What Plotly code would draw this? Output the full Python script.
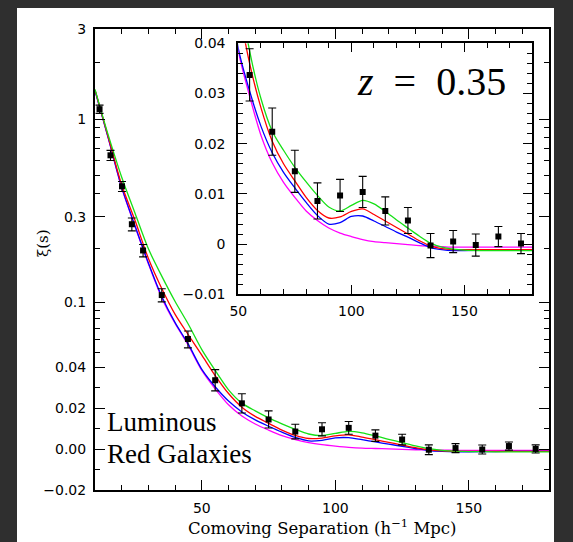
import numpy as np
import plotly.graph_objects as go

# ---------------- data ----------------
S_DATA = [11.7, 15.8, 20.1, 23.8, 28.0, 35.0, 44.8, 55, 65, 75, 85, 95, 105,
          115, 125, 135, 145, 155, 165, 175]
XI_DATA = [1.13, 0.642, 0.438, 0.273, 0.196, 0.110, 0.0605, 0.0337, 0.0224,
           0.0145, 0.0086, 0.0097, 0.0104, 0.0066, 0.0047, -0.0003, 0.0005,
           -0.0002, 0.0015, 0.0001]
XI_ERR = [0.057, 0.040, 0.027, 0.022, 0.0155, 0.0095, 0.0072, 0.0052, 0.0047,
          0.0042, 0.0036, 0.0032, 0.0031, 0.0028, 0.0026, 0.0024, 0.0022,
          0.0022, 0.0020, 0.0020]

S_MODEL = [10, 12.5, 15, 20, 25, 30, 35, 40, 45, 50, 55, 60, 65, 70, 75, 80,
           85, 90, 95, 100, 105, 110, 115, 120, 125, 130, 135, 140, 145, 150,
           160, 170, 180]
XI_MAGENTA = [1.42, 1.06, 0.79, 0.43, 0.265, 0.165, 0.106, 0.075, 0.055, 0.0385,
              0.0295, 0.0217, 0.0162, 0.0123, 0.0093, 0.0066, 0.0047, 0.0032,
              0.0022, 0.0015, 0.0009, 0.0005, 0.0003, 0.0001, -0.0001, -0.0003,
              -0.0004, -0.0005, -0.0006, -0.0006, -0.0006, -0.0006, -0.0006]
XI_BLUE = [1.42, 1.06, 0.79, 0.432, 0.267, 0.167, 0.108, 0.076, 0.056, 0.039,
           0.0305, 0.0235, 0.0182, 0.0143, 0.0112, 0.0083, 0.0057, 0.0040,
           0.0043, 0.0055, 0.0056, 0.0046, 0.0035, 0.0024, 0.0014, 0.0003,
           -0.0007, -0.0011, -0.0013, -0.0013, -0.0012, -0.0011, -0.0011]
XI_RED = [1.43, 1.07, 0.80, 0.445, 0.286, 0.177, 0.120, 0.085, 0.064, 0.048,
          0.036, 0.0272, 0.0205, 0.0160, 0.0126, 0.0093, 0.0067, 0.0052,
          0.0054, 0.0065, 0.0070, 0.0059, 0.0046, 0.0033, 0.0020, 0.0007,
          -0.0004, -0.0009, -0.0011, -0.0011, -0.0011, -0.0011, -0.0011]
XI_GREEN = [1.44, 1.08, 0.82, 0.49, 0.313, 0.200, 0.141, 0.101, 0.074, 0.052,
            0.0385, 0.029, 0.0225, 0.0187, 0.0153, 0.0124, 0.0097, 0.0074,
            0.0066, 0.0077, 0.0087, 0.0080, 0.0065, 0.0048, 0.0032, 0.0016,
            0.0002, -0.0006, -0.0010, -0.0012, -0.0013, -0.0013, -0.0013]

MAIN_YTICKS = [3, 1, 0.3, 0.1, 0.04, 0.02, 0.0, -0.02]
MAIN_YTICKTEXT = ["3", "1", "0.3", "0.1", "0.04", "0.02", "0.00", "\u22120.02"]
MAIN_YMINOR = [2, 0.9, 0.8, 0.7, 0.6, 0.5, 0.4, 0.2, 0.09, 0.08, 0.07, 0.06,
               0.05, 0.03, 0.01, -0.01]
INSET_YTICKS = [-0.01, 0.0, 0.01, 0.02, 0.03, 0.04]
INSET_YTICKTEXT = ["\u22120.01", "0", "0.01", "0.02", "0.03", "0.04"]
XTICKS = [50, 100, 150]

# ---------------- hybrid vertical scale of the main panel ----------------
OFFSET = 0.01      # log10(xi + OFFSET) above the join
JOIN = 0.04        # linear below this value
LIN_SLOPE = 10.75  # decades per unit of xi in the linear part


def F(xi):
    xi = np.asarray(xi, dtype=float)
    lin = np.log10(JOIN + OFFSET) + (xi - JOIN) * LIN_SLOPE
    lg = np.log10(np.clip(xi, JOIN, None) + OFFSET)
    return np.where(xi >= JOIN, lg, lin)


s_data = np.array(S_DATA)
xi_data = np.array(XI_DATA)
xi_err = np.array(XI_ERR)
f_data = F(xi_data)
f_up = F(xi_data + xi_err) - f_data
f_dn = f_data - F(xi_data - xi_err)

# ---------------- layout geometry (pixels) ----------------
W, H = 573, 542
L, R, T, B = 95, 549, 29, 490
pw, ph = R - L, B - T


def px(x):
    return (x - L) / pw


def py(y):
    return (B - y) / ph


COLORS = {"magenta": "#ff00ff", "blue": "#0000ff", "red": "#ff0000",
          "green": "#16e016"}
MODELS = [("magenta", XI_MAGENTA), ("blue", XI_BLUE), ("red", XI_RED),
          ("green", XI_GREEN)]

fig = go.Figure()

# main panel curves
for name, vals in MODELS:
    fig.add_trace(go.Scatter(x=S_MODEL, y=F(vals), mode="lines",
                             line=dict(color=COLORS[name], width=1.3,
                                       shape="spline", smoothing=0.8),
                             xaxis="x", yaxis="y", showlegend=False,
                             hoverinfo="skip"))
fig.add_trace(go.Scatter(x=s_data, y=f_data, mode="markers",
                         marker=dict(symbol="square", size=6, color="black"),
                         error_y=dict(type="data", array=f_up, arrayminus=f_dn,
                                      color="black", thickness=1.1, width=4),
                         xaxis="x", yaxis="y", showlegend=False))

# inset curves
for name, vals in MODELS:
    fig.add_trace(go.Scatter(x=S_MODEL, y=vals, mode="lines",
                             line=dict(color=COLORS[name], width=1.3,
                                       shape="spline", smoothing=0.8),
                             xaxis="x2", yaxis="y2", showlegend=False,
                             hoverinfo="skip"))
mask = s_data >= 50
fig.add_trace(go.Scatter(x=s_data[mask], y=xi_data[mask], mode="markers",
                         marker=dict(symbol="square", size=6, color="black"),
                         error_y=dict(type="data", array=xi_err[mask],
                                      color="black", thickness=1.1, width=4),
                         xaxis="x2", yaxis="y2", showlegend=False))

tickfont = dict(family="DejaVu Sans", size=14, color="black")
axis_common = dict(showline=True, linecolor="black", linewidth=2,
                   mirror="ticks", ticks="inside", tickcolor="black",
                   tickwidth=1.3, showgrid=False, zeroline=False,
                   tickfont=tickfont)

fig.update_layout(
    width=W, height=H,
    margin=dict(l=L, r=W - R, t=T, b=H - B),
    paper_bgcolor="#2f2f2f", plot_bgcolor="white",
    xaxis=dict(domain=[0, 1], range=[10, 180], tickmode="array",
               tickvals=XTICKS, ticklen=10,
               minor=dict(dtick=10, tick0=0, ticklen=5, ticks="inside",
                          tickcolor="black", tickwidth=1.2),
               anchor="y", ticklabelstandoff=4, **axis_common),
    yaxis=dict(domain=[0, 1], range=[float(F(-0.02)), float(F(3))],
               tickmode="array", tickvals=F(MAIN_YTICKS).tolist(),
               ticktext=MAIN_YTICKTEXT, ticklen=10,
               minor=dict(tickmode="array", tickvals=F(MAIN_YMINOR).tolist(),
                          ticklen=5, ticks="inside", tickcolor="black",
                          tickwidth=1.2),
               anchor="x", ticklabelstandoff=4, **axis_common),
    xaxis2=dict(domain=[px(238.3), px(532.3)], range=[50, 180],
                tickmode="array", tickvals=XTICKS, ticklen=9,
                minor=dict(dtick=10, tick0=0, ticklen=5, ticks="inside",
                           tickcolor="black", tickwidth=1.2),
                anchor="y2", ticklabelstandoff=3, **axis_common),
    yaxis2=dict(domain=[py(294.3), py(43.3)], range=[-0.01, 0.04],
                tickmode="array", tickvals=INSET_YTICKS,
                ticktext=INSET_YTICKTEXT, ticklen=9,
                minor=dict(dtick=0.002, tick0=0, ticklen=5, ticks="inside",
                           tickcolor="black", tickwidth=1.2),
                anchor="x2", ticklabelstandoff=8, **axis_common),
    shapes=[dict(type="rect", xref="paper", yref="paper",
                 x0=px(17), x1=px(554), y0=py(542), y1=py(8),
                 fillcolor="white", line=dict(width=0), layer="below")],
    annotations=[
        dict(text="Comoving Separation (h<sup>\u22121</sup> Mpc)",
             xref="paper", yref="paper", x=px(322), y=py(527),
             showarrow=False, xanchor="center", yanchor="middle",
             font=dict(family="DejaVu Serif", size=16.5, color="black")),
        dict(text="\u03be(s)", xref="paper", yref="paper", x=px(43),
             y=py(243), showarrow=False, textangle=-90, xanchor="center",
             yanchor="middle",
             font=dict(family="DejaVu Serif", size=15, color="black")),
        dict(text="Luminous", xref="paper", yref="paper", x=px(105),
             y=py(422), showarrow=False, xanchor="left", yanchor="middle",
             font=dict(family="Liberation Serif", size=27, color="black")),
        dict(text="Red Galaxies", xref="paper", yref="paper", x=px(105),
             y=py(454), showarrow=False, xanchor="left", yanchor="middle",
             font=dict(family="Liberation Serif", size=27, color="black")),
        dict(text="<i>z</i>\u2002=\u20020.35", xref="paper", yref="paper",
             x=px(431), y=py(82), showarrow=False, xanchor="center",
             yanchor="middle",
             font=dict(family="Liberation Serif", size=40, color="black")),
    ],
)

fig.write_html("out.html")
